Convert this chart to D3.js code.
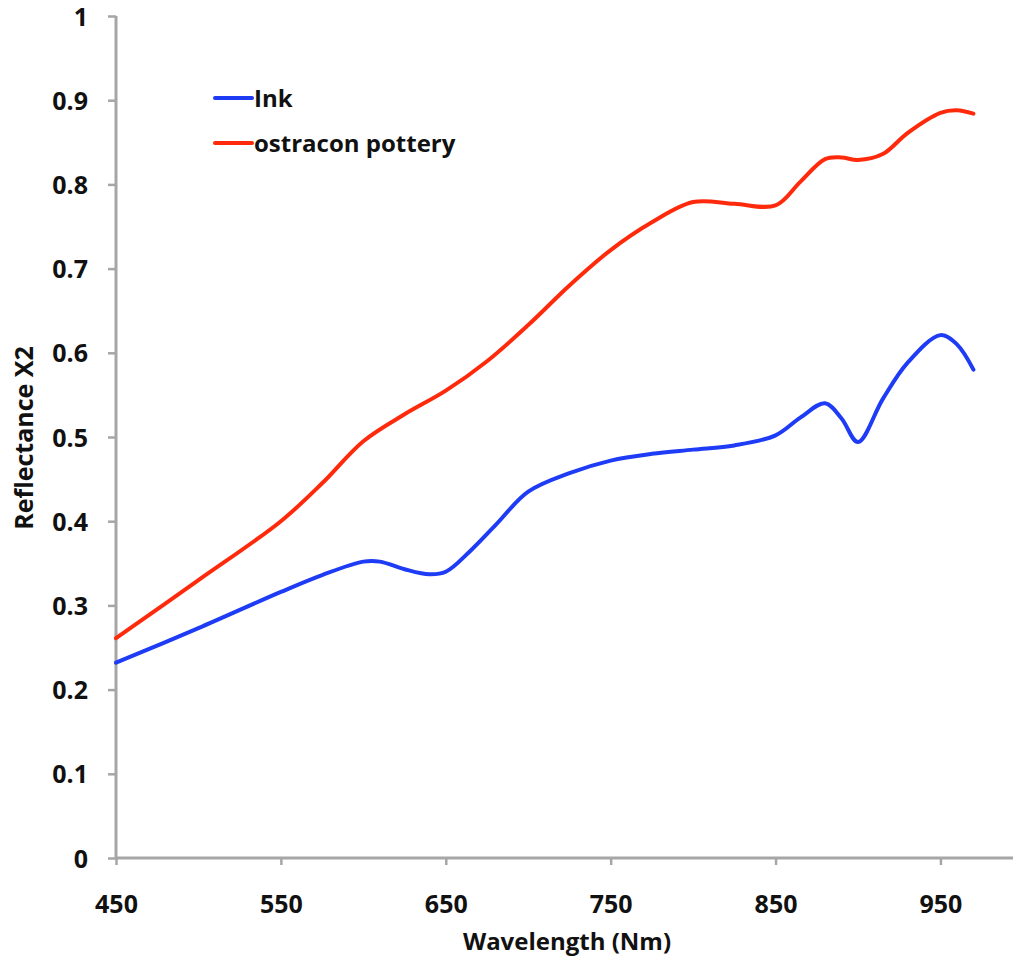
<!DOCTYPE html>
<html>
<head>
<meta charset="utf-8">
<script src="https://cdn.jsdelivr.net/npm/d3@7"></script>
<style>
  body { margin: 0; background: #fff; }
  svg { display: block; font-family: "Open Sans", sans-serif; }
</style>
</head>
<body>
<div id="chart"></div>
<script>
const wavelengthInk = [450, 500, 550, 575, 600, 610, 625, 640, 650, 665, 680, 700, 725, 750, 775, 800, 825, 850, 865, 880, 890, 900, 915, 930, 950, 960, 970];
const ink = [0.232, 0.273, 0.316, 0.336, 0.352, 0.352, 0.343, 0.337, 0.340, 0.365, 0.395, 0.435, 0.457, 0.472, 0.480, 0.485, 0.490, 0.502, 0.523, 0.540, 0.522, 0.494, 0.545, 0.588, 0.621, 0.610, 0.580];
const wavelengthPottery = [450, 500, 550, 575, 600, 625, 650, 675, 700, 725, 750, 775, 800, 825, 850, 865, 880, 890, 900, 915, 930, 950, 960, 970];
const pottery = [0.261, 0.330, 0.400, 0.445, 0.495, 0.527, 0.555, 0.590, 0.633, 0.680, 0.722, 0.755, 0.779, 0.777, 0.775, 0.803, 0.830, 0.832, 0.829, 0.836, 0.861, 0.885, 0.888, 0.884];
const xTicks = [450, 550, 650, 750, 850, 950];
const yTicks = [0, 0.1, 0.2, 0.3, 0.4, 0.5, 0.6, 0.7, 0.8, 0.9, 1];
const seriesNames = ["Ink", "ostracon pottery"];
const seriesColors = ["#1e3cf5", "#ff2a0c"];

const width = 1013, height = 956;
const margin = {top: 16, right: 0, bottom: 98, left: 116};

const svg = d3.select("#chart").append("svg")
    .attr("width", width)
    .attr("height", height);

// 100 nm spans about 165 px in the reference
const x = d3.scaleLinear()
    .domain([450, 994])
    .range([margin.left, width - margin.right]);

const y = d3.scaleLinear()
    .domain([0, 1])
    .range([height - margin.bottom, margin.top]);

const axisColor = "#a6a6a6";

// axes
const xAxis = d3.axisBottom(x)
    .tickValues(xTicks)
    .tickSize(7)
    .tickPadding(30)
    .tickFormat(d3.format("d"));
const yAxis = d3.axisLeft(y)
    .tickValues(yTicks)
    .tickSize(8)
    .tickPadding(20)
    .tickFormat(d => d === 0 || d === 1 ? String(d) : d3.format(".1f")(d));

const gx = svg.append("g")
    .attr("transform", `translate(0, ${y(0)})`)
    .call(xAxis);
const gy = svg.append("g")
    .attr("transform", `translate(${margin.left}, 0)`)
    .call(yAxis);

[gx, gy].forEach(g => {
    g.attr("font-family", null).attr("font-size", null);
    g.select(".domain").attr("stroke", axisColor).attr("stroke-width", 3);
    g.selectAll(".tick line").attr("stroke", axisColor).attr("stroke-width", 2.5);
    g.selectAll(".tick text")
        .style("font-family", "'Open Sans', sans-serif")
        .style("font-size", "25px")
        .style("font-weight", 700)
        .attr("fill", "#111");
});
gx.select(".domain").attr("d", `M${margin.left},0H${width}`);
gy.select(".domain").attr("d", `M0,${y(1)}V${y(0)}`);
gy.selectAll(".tick text").attr("dy", "0.36em");

// axis titles
svg.append("text")
    .attr("x", 567)
    .attr("y", 950)
    .attr("text-anchor", "middle")
    .style("font-size", "24px")
    .style("font-weight", 700)
    .attr("fill", "#111")
    .text("Wavelength (Nm)");

svg.append("text")
    .attr("transform", `translate(33, 438) rotate(-90)`)
    .attr("text-anchor", "middle")
    .style("font-size", "25px")
    .style("font-weight", 700)
    .attr("fill", "#111")
    .text("Reflectance X2");

// lines
const line = d3.line()
    .x(d => x(d[0]))
    .y(d => y(d[1]))
    .curve(d3.curveCatmullRom.alpha(0.5));

const series = [
    d3.zip(wavelengthInk, ink),
    d3.zip(wavelengthPottery, pottery)
];

svg.selectAll(".series")
    .data(series)
    .enter().append("path")
    .attr("class", "series")
    .attr("d", line)
    .attr("fill", "none")
    .attr("stroke", (d, i) => seriesColors[i])
    .attr("stroke-width", 4)
    .attr("stroke-linecap", "round")
    .attr("stroke-linejoin", "round");

// legend
const legend = svg.append("g")
    .attr("transform", "translate(215, 98)");
const items = legend.selectAll("g")
    .data(seriesNames)
    .enter().append("g")
    .attr("transform", (d, i) => `translate(0, ${i * 45})`);
items.append("line")
    .attr("x1", 0).attr("x2", 37)
    .attr("stroke", (d, i) => seriesColors[i])
    .attr("stroke-width", 4)
    .attr("stroke-linecap", "round");
items.append("text")
    .attr("x", 39)
    .attr("dy", "0.36em")
    .style("font-size", "24px")
    .style("font-weight", 700)
    .attr("fill", "#111")
    .text(d => d);
</script>
</body>
</html>
